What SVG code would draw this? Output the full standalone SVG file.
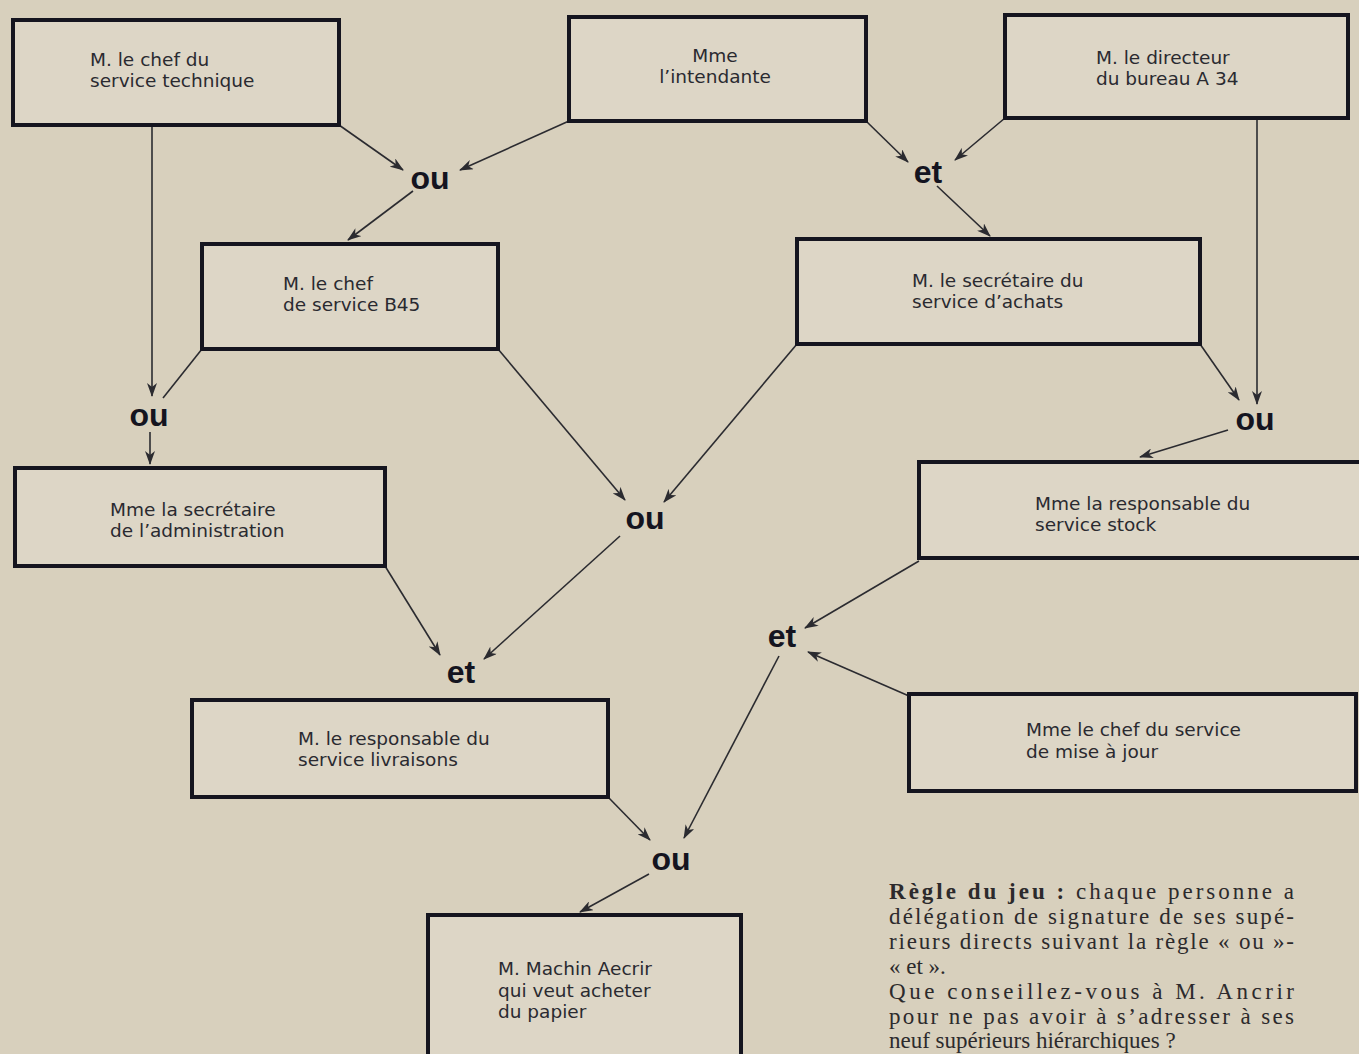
<svg xmlns="http://www.w3.org/2000/svg" width="1359" height="1054" viewBox="0 0 1359 1054">
<defs>
<style>
.box{fill:#ddd6c6;stroke:#15151f;stroke-width:4}
.bt{font-family:"DejaVu Sans","Liberation Sans",Arial,sans-serif;font-size:18.5px;fill:#2a2a30}
.gate{font-family:"Liberation Sans",Arial,sans-serif;font-size:32px;font-weight:bold;fill:#141420}
.ln{stroke:#2b2b30;stroke-width:1.6;fill:none}
.rule{font-family:"Liberation Serif","Times New Roman",serif;font-size:23px;fill:#2c2a2c}
</style>
<marker id="ah" viewBox="0 0 14 10" refX="13" refY="5" markerWidth="14" markerHeight="10" markerUnits="userSpaceOnUse" orient="auto">
<path d="M0,0 L14,5 L0,10 L4,5 Z" fill="#2b2b30"/>
</marker>
</defs>
<rect width="1359" height="1054" fill="#d8d0bd"/>

<g id="connectors">
<line class="ln" x1="339" y1="125" x2="403" y2="170" marker-end="url(#ah)"/>
<line class="ln" x1="569" y1="121" x2="460" y2="170" marker-end="url(#ah)"/>
<line class="ln" x1="413" y1="191" x2="348" y2="240" marker-end="url(#ah)"/>
<line class="ln" x1="866" y1="121" x2="908" y2="162" marker-end="url(#ah)"/>
<line class="ln" x1="1005" y1="118" x2="955" y2="160" marker-end="url(#ah)"/>
<line class="ln" x1="937" y1="186" x2="990" y2="236" marker-end="url(#ah)"/>
<line class="ln" x1="152" y1="125" x2="152" y2="396" marker-end="url(#ah)"/>
<line class="ln" x1="202" y1="349" x2="163" y2="398"/>
<line class="ln" x1="150" y1="432" x2="150" y2="464" marker-end="url(#ah)"/>
<line class="ln" x1="1257" y1="118" x2="1257" y2="404" marker-end="url(#ah)"/>
<line class="ln" x1="1200" y1="344" x2="1239" y2="400" marker-end="url(#ah)"/>
<line class="ln" x1="1228" y1="430" x2="1140" y2="457" marker-end="url(#ah)"/>
<line class="ln" x1="498" y1="349" x2="625" y2="500" marker-end="url(#ah)"/>
<line class="ln" x1="797" y1="344" x2="664" y2="502" marker-end="url(#ah)"/>
<line class="ln" x1="385" y1="566" x2="440" y2="655" marker-end="url(#ah)"/>
<line class="ln" x1="620" y1="536" x2="484" y2="659" marker-end="url(#ah)"/>
<line class="ln" x1="919" y1="561" x2="805" y2="628" marker-end="url(#ah)"/>
<line class="ln" x1="909" y1="696" x2="808" y2="652" marker-end="url(#ah)"/>
<line class="ln" x1="779" y1="656" x2="684" y2="838" marker-end="url(#ah)"/>
<line class="ln" x1="608" y1="797" x2="650" y2="840" marker-end="url(#ah)"/>
<line class="ln" x1="649" y1="874" x2="580" y2="912" marker-end="url(#ah)"/>
</g>

<g id="n1"><rect class="box" x="13" y="20" width="326" height="105"/><text class="bt" x="90" y="66">M. le chef du</text><text class="bt" x="90" y="87">service technique</text></g>
<g id="n2"><rect class="box" x="569" y="17" width="297" height="104"/><text class="bt" x="715" y="62" text-anchor="middle">Mme</text><text class="bt" x="715" y="83" text-anchor="middle">l’intendante</text></g>
<g id="n3"><rect class="box" x="1005" y="15" width="343" height="103"/><text class="bt" x="1096" y="64">M. le directeur</text><text class="bt" x="1096" y="85">du bureau A 34</text></g>
<g id="n4"><rect class="box" x="202" y="244" width="296" height="105"/><text class="bt" x="283" y="290">M. le chef</text><text class="bt" x="283" y="311">de service B45</text></g>
<g id="n5"><rect class="box" x="797" y="239" width="403" height="105"/><text class="bt" x="912" y="287">M. le secrétaire du</text><text class="bt" x="912" y="308">service d’achats</text></g>
<g id="n6"><rect class="box" x="15" y="468" width="370" height="98"/><text class="bt" x="110" y="516">Mme la secrétaire</text><text class="bt" x="110" y="537">de l’administration</text></g>
<g id="n7"><rect class="box" x="919" y="462" width="444" height="96"/><text class="bt" x="1035" y="510">Mme la responsable du</text><text class="bt" x="1035" y="531">service stock</text></g>
<g id="n8"><rect class="box" x="192" y="700" width="416" height="97"/><text class="bt" x="298" y="745">M. le responsable du</text><text class="bt" x="298" y="766">service livraisons</text></g>
<g id="n9"><rect class="box" x="909" y="694" width="447" height="97"/><text class="bt" x="1026" y="736">Mme le chef du service</text><text class="bt" x="1026" y="758">de mise à jour</text></g>
<g id="n10"><rect class="box" x="428" y="915" width="313" height="150"/><text class="bt" x="498" y="975">M. Machin Aecrir</text><text class="bt" x="498" y="997">qui veut acheter</text><text class="bt" x="498" y="1018">du papier</text></g>

<g id="gates">
<text class="gate" x="430" y="189" text-anchor="middle">ou</text>
<text class="gate" x="928" y="183" text-anchor="middle">et</text>
<text class="gate" x="149" y="426" text-anchor="middle">ou</text>
<text class="gate" x="1255" y="430" text-anchor="middle">ou</text>
<text class="gate" x="645" y="529" text-anchor="middle">ou</text>
<text class="gate" x="461" y="683" text-anchor="middle">et</text>
<text class="gate" x="782" y="647" text-anchor="middle">et</text>
<text class="gate" x="671" y="870" text-anchor="middle">ou</text>
</g>

<g id="rule">
<text class="rule" x="889" y="899" textLength="405" lengthAdjust="spacing"><tspan font-weight="bold">Règle du jeu :</tspan> chaque personne a</text>
<text class="rule" x="889" y="924" textLength="405" lengthAdjust="spacing">délégation de signature de ses supé-</text>
<text class="rule" x="889" y="949" textLength="405" lengthAdjust="spacing">rieurs directs suivant la règle « ou »-</text>
<text class="rule" x="889" y="974">« et ».</text>
<text class="rule" x="889" y="999" textLength="405" lengthAdjust="spacing">Que conseillez-vous à M. Ancrir</text>
<text class="rule" x="889" y="1024" textLength="405" lengthAdjust="spacing">pour ne pas avoir à s’adresser à ses</text>
<text class="rule" x="889" y="1048">neuf supérieurs hiérarchiques ?</text>
</g>
</svg>
